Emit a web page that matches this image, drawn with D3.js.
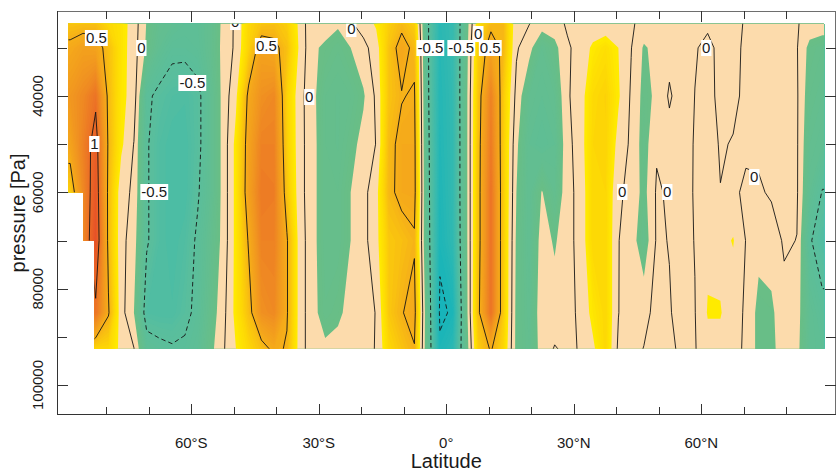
<!DOCTYPE html>
<html>
<head>
<meta charset="utf-8">
<script src="https://cdn.jsdelivr.net/npm/d3@7"></script>
<style>
  body { margin: 0; background: #fff; }
  svg { display: block; }
  text { font-family: "Liberation Sans", Arial, Helvetica, sans-serif; fill: #1a1a1a; }
</style>
</head>
<body>
<svg id="chart" width="837" height="472"></svg>
<script>
// Zonal-mean anomaly field: latitude x pressure
const lats = [-88.5, -85.5, -82.5, -79.5, -76.5, -73.5, -70.5, -67.5, -64.5, -61.5,
              -58.5, -55.5, -52.5, -49.5, -46.5, -43.5, -40.5, -37.5, -34.5, -31.5,
              -28.5, -25.5, -22.5, -19.5, -16.5, -13.5, -10.5, -7.5, -4.5, -1.5,
              1.5, 4.5, 7.5, 10.5, 13.5, 16.5, 19.5, 22.5, 25.5, 28.5,
              31.5, 34.5, 37.5, 40.5, 43.5, 46.5, 49.5, 52.5, 55.5, 58.5,
              61.5, 64.5, 67.5, 70.5, 73.5, 76.5, 79.5, 82.5, 85.5, 88.5];

const levels = [25000, 30000, 40000, 50000, 60000, 70000, 85000, 92500];

// one array per pressure level, south to north
const at25000 = [0.40, 0.42, 0.42, 0.30, 0.22, 0.08, -0.16, -0.30, -0.35, -0.40,
                 -0.40, -0.30, -0.11, 0.03, 0.30, 0.40, 0.42, 0.35, 0.11, -0.13,
                 -0.10, -0.13, -0.02, 0.07, 0.17, 0.35, 0.45, 0.35, -0.45, -0.88,
                 -0.80, -0.28, 0.25, 0.45, 0.45, 0.05, 0.005, -0.08, -0.06, 0.02,
                 0.05, 0.05, 0.05, 0.05, 0.02, -0.05, -0.06, -0.05, -0.04, -0.02,
                 -0.02, -0.03, -0.03, 0.01, 0.03, 0.03, 0.02, 0.01, -0.05, -0.06];
const at30000 = [0.55, 0.62, 0.60, 0.42, 0.22, 0.07, -0.18, -0.35, -0.45, -0.45,
                 -0.42, -0.30, -0.10, 0.03, 0.33, 0.60, 0.55, 0.42, 0.12, -0.13,
                 -0.17, -0.22, -0.15, -0.05, 0.08, 0.40, 0.58, 0.45, -0.45, -0.90,
                 -0.80, -0.27, 0.35, 0.60, 0.45, 0.02, -0.10, -0.30, -0.20, -0.02,
                 0.05, 0.18, 0.25, 0.15, 0.005, -0.17, -0.10, -0.05, -0.05, -0.01,
                 0.03, -0.03, -0.03, 0.02, 0.04, 0.04, 0.03, 0.01, -0.20, -0.25];
const at40000 = [0.70, 0.80, 0.95, 0.45, 0.20, 0.08, -0.46, -0.55, -0.60, -0.62,
                 -0.55, -0.35, -0.10, 0.12, 0.55, 0.75, 0.80, 0.33, 0.06, -0.11,
                 -0.25, -0.28, -0.25, -0.17, 0.03, 0.40, 0.49, 0.52, -0.44, -0.92,
                 -0.82, -0.25, 0.40, 0.85, 0.36, -0.05, -0.30, -0.35, -0.30, -0.02,
                 0.08, 0.28, 0.33, 0.17, -0.02, -0.20, -0.12, 0.02, -0.08, 0.002,
                 0.05, -0.04, -0.03, 0.03, 0.05, 0.05, 0.04, 0.02, -0.25, -0.30];
const at50000 = [0.60, 0.85, 1.10, 0.47, 0.18, -0.005, -0.48, -0.60, -0.65, -0.65,
                 -0.55, -0.35, -0.10, 0.20, 0.60, 0.85, 0.85, 0.35, 0.06, -0.10,
                 -0.25, -0.28, -0.20, -0.10, 0.005, 0.45, 0.55, 0.55, -0.42, -0.93,
                 -0.83, -0.25, 0.42, 0.90, 0.35, -0.12, -0.35, -0.40, -0.35, -0.05,
                 0.08, 0.30, 0.32, 0.10, -0.03, -0.22, -0.02, -0.06, -0.06, 0.01,
                 0.06, -0.012, 0.008, 0.03, 0.03, 0.03, 0.03, 0.02, -0.30, -0.35];
const at60000 = [0.35, 0.80, 1.15, 0.45, 0.06, -0.03, -0.48, -0.60, -0.65, -0.65,
                 -0.52, -0.35, -0.10, 0.20, 0.62, 0.90, 0.88, 0.40, 0.06, -0.10,
                 -0.25, -0.25, -0.15, -0.05, 0.10, 0.46, 0.55, 0.56, -0.40, -0.95,
                 -0.83, -0.25, 0.42, 0.95, 0.35, -0.15, -0.35, -0.14, -0.30, -0.05,
                 0.05, 0.30, 0.30, 0.03, -0.05, -0.20, 0.02, -0.02, -0.05, 0.01,
                 0.05, 0.003, 0.03, -0.03, -0.02, 0.02, 0.03, 0.02, -0.35, -0.51];
const at70000 = [0.35, 0.80, 1.20, 0.45, 0.05, -0.08, -0.48, -0.60, -0.65, -0.60,
                 -0.47, -0.30, -0.10, 0.20, 0.52, 0.85, 0.85, 0.52, 0.08, -0.10,
                 -0.25, -0.25, -0.15, -0.05, 0.10, 0.38, 0.42, 0.48, -0.38, -0.97,
                 -0.85, -0.25, 0.42, 0.95, 0.35, -0.18, -0.35, -0.08, -0.17, -0.05,
                 0.05, 0.30, 0.30, 0.005, -0.08, -0.25, 0.02, -0.005, -0.05, 0.005,
                 0.12, 0.10, 0.16, -0.005, -0.10, -0.08, 0.02, -0.003, -0.48, -0.60];
const at85000 = [0.35, 0.80, 0.95, 0.52, 0.06, -0.15, -0.60, -0.62, -0.62, -0.55,
                 -0.45, -0.25, -0.05, 0.20, 0.42, 0.75, 0.80, 0.52, 0.08, -0.10,
                 -0.22, -0.18, -0.10, -0.05, 0.005, 0.38, 0.49, 0.56, -0.30, -1.03,
                 -0.98, -0.27, 0.45, 0.95, 0.35, -0.20, -0.32, -0.05, -0.08, -0.05,
                 0.03, 0.20, 0.30, 0.005, -0.13, -0.05, 0.05, 0.01, -0.05, -0.005,
                 0.16, 0.16, 0.06, -0.02, -0.20, -0.18, -0.05, -0.08, -0.35, -0.45];
const at92500 = [0.35, 0.50, 0.30, 0.30, 0.10, 0.005, -0.40, -0.45, -0.48, -0.47,
                 -0.40, -0.20, -0.02, 0.15, 0.30, 0.42, 0.55, 0.48, 0.08, -0.10,
                 -0.12, -0.10, -0.06, -0.03, 0.005, 0.30, 0.40, 0.49, -0.30, -0.97,
                 -0.88, -0.30, 0.35, 0.52, 0.30, -0.20, -0.30, -0.08, 0.01, -0.03,
                 0.01, 0.12, 0.30, -0.03, -0.06, 0.005, 0.04, 0.03, -0.03, -0.01,
                 0.10, 0.10, 0.04, -0.02, -0.20, -0.20, -0.05, -0.10, -0.35, -0.40];

// below-ground (missing) data near the South Pole: poleward of lat, data only reach p
const groundMask = [{ lat: -85.4, p: 60000 }, { lat: -82.8, p: 70000 }];

const contourLevels = [-1, -0.5, 0, 0.5, 1];

// inline contour labels
const labelLat  = [-82.35, -71.76, -59.76, -82.82, -68.71, -49.65, -42.35, -32.24, -22.35,
                   -3.76, 3.53, 7.53, 10.35, 61.18, 41.41, 52.0, 72.47];
const labelP    = [27960, 30035, 37300, 49965, 59930, 24640, 29620, 40210, 26090,
                   30035, 30035, 27130, 30035, 30035, 59930, 59930, 56820];
const labelText = ["0.5", "0", "-0.5", "1", "-0.5", "0", "0.5", "0", "0",
                   "-0.5", "-0.5", "0", "0.5", "0", "0", "0", "0"];

const xMajor = [-60, -30, 0, 30, 60];
const xMajorLabels = ["60°S", "30°S", "0°", "30°N", "60°N"];
const xMinor = [-80, -70, -50, -40, -20, -10, 10, 20, 40, 50, 70, 80];
const yMajor = [40000, 60000, 80000, 100000];
const yMinor = [30000, 50000, 70000, 90000];

// ---------------------------------------------------------------------------
const svg = d3.select("#chart");
const box = { left: 57, right: 836, top: 11, bottom: 415 };
const x = d3.scaleLinear().domain([-91.6, 91.7]).range([box.left, box.right]);
const y = d3.scaleLinear().domain([22350, 106230]).range([box.top, box.bottom]);

// grid padded by one replicated cell on every side so lines run to the edge
const rows = [at25000, at30000, at40000, at50000, at60000, at70000, at85000, at92500];
const nx = lats.length, ny = levels.length;
const gw = nx + 2, gh = ny + 2;
const grid = new Float64Array(gw * gh);
for (let r = 0; r < gh; r++) {
  const sr = Math.min(Math.max(r - 1, 0), ny - 1);
  for (let c = 0; c < gw; c++) {
    const sc = Math.min(Math.max(c - 1, 0), nx - 1);
    grid[r * gw + c] = rows[sr][sc];
  }
}
const colToLat = d3.scaleLinear().domain([1.5, nx + 0.5]).range([lats[0], lats[nx - 1]]);
const rowToP = d3.scaleLinear().domain(levels.map((_, j) => j + 1.5)).range(levels);
const path = d3.geoPath(d3.geoTransform({
  point(gx, gy) { this.stream.point(x(colToLat(gx)), y(rowToP(gy))); }
}));
const gen = d3.contours().size([gw, gh]).smooth(true);

// valid-data region (clip)
const edge = 88.9;
const pTop = levels[0], pBot = levels[ny - 1];
const clipPts = [[-edge, pTop], [edge, pTop], [edge, pBot]];
let curP = pBot;
groundMask.slice().sort((a, b) => b.lat - a.lat).forEach(s => {
  clipPts.push([s.lat, curP]);
  clipPts.push([s.lat, s.p]);
  curP = s.p;
});
clipPts.push([-edge, curP]);

const defs = svg.append("defs");
defs.append("clipPath").attr("id", "dataClip")
  .append("polygon")
  .attr("points", clipPts.map(d => [x(d[0]), y(d[1])].join(",")).join(" "));
defs.append("clipPath").attr("id", "labelClip")
  .append("rect")
  .attr("x", x(-edge)).attr("y", y(pTop))
  .attr("width", x(edge) - x(-edge)).attr("height", box.bottom - y(pTop));

// colour ramp
const tan = "rgb(252,219,172)";
const negColor = d3.scaleLinear()
  .domain([-1.1, -0.8, -0.55, -0.35, -0.15])
  .range(["rgb(10,178,190)", "rgb(55,186,175)", "rgb(88,190,158)", "rgb(97,190,146)", "rgb(106,190,133)"])
  .clamp(true);
const posColor = d3.scaleLinear()
  .domain([0.15, 0.3, 0.5, 0.75, 0.95, 1.2, 1.45])
  .range(["rgb(255,237,0)", "rgb(253,215,5)", "rgb(246,175,25)", "rgb(240,145,33)",
          "rgb(236,115,38)", "rgb(230,80,40)", "rgb(226,62,40)"])
  .clamp(true);
const fillThresholds = [-10]
  .concat(d3.range(-44, -6).map(k => k * 0.025))
  .concat([-0.15, 0.15])
  .concat(d3.range(7, 60).map(k => k * 0.025));
function bandColor(i) {
  const lo = fillThresholds[i];
  const hi = i + 1 < fillThresholds.length ? fillThresholds[i + 1] : lo + 0.025;
  if (lo < -1.1) return negColor(-1.1);
  const mid = (lo + hi) / 2;
  if (lo >= -0.1501 && lo < 0.1499) return tan;
  return mid < 0 ? negColor(mid) : posColor(mid);
}

const field = svg.append("g").attr("clip-path", "url(#dataClip)");
fillThresholds.forEach((t, i) => {
  field.append("path")
    .attr("d", path(gen.contour(grid, t)))
    .attr("fill", bandColor(i));
});

const lines = svg.append("g").attr("clip-path", "url(#dataClip)");
contourLevels.forEach(t => {
  lines.append("path")
    .attr("d", path(gen.contour(grid, t)))
    .attr("fill", "none")
    .attr("stroke", "#151515")
    .attr("stroke-width", 0.9)
    .attr("stroke-linejoin", "round")
    .attr("stroke-dasharray", t < 0 ? "4.5,3" : null);
});

// contour labels
const labels = svg.append("g").attr("clip-path", "url(#labelClip)");
labelText.forEach((txt, i) => {
  const g = labels.append("g").attr("transform", `translate(${x(labelLat[i])},${y(labelP[i])})`);
  const t = g.append("text")
    .attr("text-anchor", "middle")
    .attr("dy", "0.36em")
    .attr("font-size", 15)
    .text(txt);
  const bb = t.node().getBBox();
  g.insert("rect", "text")
    .attr("x", bb.x - 1).attr("y", -8)
    .attr("width", bb.width + 2).attr("height", 16)
    .attr("fill", "#fff");
});

// frame
svg.append("rect")
  .attr("x", box.left + 0.5).attr("y", box.top + 0.5)
  .attr("width", box.right - box.left - 1).attr("height", box.bottom - box.top - 1)
  .attr("fill", "none").attr("stroke", "#6e6e6e").attr("stroke-width", 1);
svg.append("line")
  .attr("x1", box.left + 0.5).attr("x2", box.left + 0.5)
  .attr("y1", box.top).attr("y2", box.bottom)
  .attr("stroke", "#333");
svg.append("line")
  .attr("x1", box.left).attr("x2", box.right)
  .attr("y1", box.bottom - 0.5).attr("y2", box.bottom - 0.5)
  .attr("stroke", "#333");

function ticks(g, vals, len, orient) {
  vals.forEach(v => {
    let x1, x2, y1, y2;
    if (orient === "bottom") { x1 = x2 = Math.round(x(v)) + 0.5; y1 = box.bottom; y2 = box.bottom - len; }
    if (orient === "top")    { x1 = x2 = Math.round(x(v)) + 0.5; y1 = box.top; y2 = box.top + len; }
    if (orient === "left")   { y1 = y2 = Math.round(y(v)) + 0.5; x1 = box.left; x2 = box.left + len; }
    if (orient === "right")  { y1 = y2 = Math.round(y(v)) + 0.5; x1 = box.right; x2 = box.right - len; }
    g.append("line").attr("x1", x1).attr("x2", x2).attr("y1", y1).attr("y2", y2)
      .attr("stroke", "#333").attr("stroke-width", 1);
  });
}
const tg = svg.append("g");
ticks(tg, xMajor, 11, "bottom"); ticks(tg, xMinor, 8, "bottom");
ticks(tg, xMajor, 11, "top");    ticks(tg, xMinor, 8, "top");
ticks(tg, yMajor, 11, "left");   ticks(tg, yMinor, 10, "left");
ticks(tg, yMajor, 11, "right");  ticks(tg, yMinor, 10, "right");

// tick labels
svg.append("g").selectAll("text").data(xMajor).join("text")
  .attr("x", d => x(d)).attr("y", 448)
  .attr("text-anchor", "middle").attr("font-size", 15)
  .text((d, i) => xMajorLabels[i]);
svg.append("g").selectAll("text").data(yMajor).join("text")
  .attr("transform", d => `translate(43,${y(d)}) rotate(-90)`)
  .attr("text-anchor", "middle").attr("font-size", 15)
  .text(d => d);

// axis titles
svg.append("text")
  .attr("x", x(0)).attr("y", 468)
  .attr("text-anchor", "middle").attr("font-size", 20)
  .text("Latitude");
svg.append("text")
  .attr("transform", `translate(25,${(box.top + box.bottom) / 2}) rotate(-90)`)
  .attr("text-anchor", "middle").attr("font-size", 20)
  .text("pressure [Pa]");
</script>
</body>
</html>
